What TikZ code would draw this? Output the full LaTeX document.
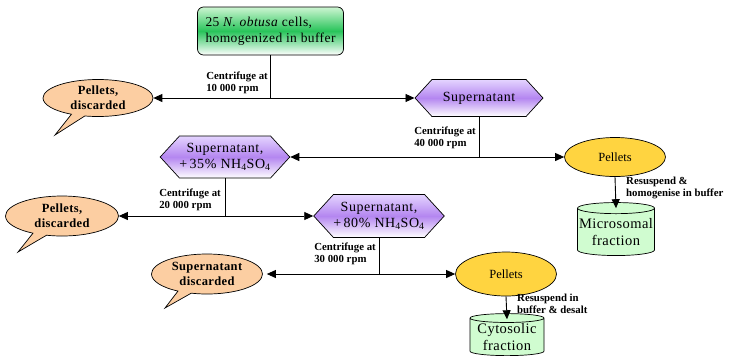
\documentclass[tikz,border=0pt]{standalone}
\usepackage{fontspec}
\setmainfont{Liberation Serif}
\usetikzlibrary{arrows.meta,shapes.symbols,shapes.callouts,shapes.geometric}
\definecolor{peach}{RGB}{252,206,162}
\definecolor{gold}{RGB}{255,212,64}
\definecolor{mint}{RGB}{208,252,208}
\definecolor{lav}{RGB}{228,212,255}
\definecolor{purp}{RGB}{180,134,240}
\definecolor{lgreen}{RGB}{205,245,210}
\definecolor{dgreen}{RGB}{40,196,90}
\begin{document}
\begin{tikzpicture}[x=1pt,y=-1pt,
  conn/.style={line width=0.9pt},
  arr/.style={conn,-{Triangle[length=9pt,width=8pt]}},
  barr/.style={conn,{Triangle[length=9pt,width=8pt]}-{Triangle[length=9pt,width=8pt]}},
  hexbox/.style={signal, signal to=east and west, signal pointer angle=95, draw, line width=0.7pt,
    top color=lav, bottom color=white, middle color=purp, inner sep=0pt, align=center,
    font=\addfontfeature{LetterSpace=4}\fontsize{14}{15.5}\selectfont},
  bubble/.style={ellipse callout, draw, line width=0.7pt, fill=peach, inner sep=0pt, align=center,
    font=\bfseries\addfontfeature{LetterSpace=3}\fontsize{12.5}{15}\selectfont},
  pellet/.style={ellipse, draw, line width=0.7pt, fill=gold, inner sep=0pt,
    font=\fontsize{12.5}{14}\selectfont},
  drum/.style={cylinder, shape border rotate=90, aspect=0.15, draw, line width=0.7pt, fill=mint,
    inner sep=0pt, align=center, font=\addfontfeature{LetterSpace=3}\fontsize{14.5}{17}\selectfont},
  lab/.style={inner sep=1pt, align=left, font=\bfseries\fontsize{10.8}{12}\selectfont}
]
\useasboundingbox (0,0) rectangle (731,360);

% start box
\node[draw, line width=0.7pt, rounded corners=6pt, minimum width=146pt, minimum height=48pt,
  top color=lgreen, bottom color=white, middle color=dgreen, align=left, inner sep=0pt,
  font=\addfontfeature{LetterSpace=3}\fontsize{13.5}{16}\selectfont] (box) at (270.5,31)
  {25 \textit{N. obtusa} cells,\\homogenized in buffer};

% level 1
\node[hexbox, minimum width=128pt, minimum height=37pt] (sup1) at (479,98) {Supernatant};
\node[bubble, minimum width=110pt, minimum height=37pt, callout absolute pointer={(55,135)}] (c1) at (98,98) {Pellets,\\discarded};
\coordinate (j1) at (box.south |- sup1.west);
\draw[conn] (box.south) -- (j1);
\draw[barr] (c1.east) -- (sup1.west);
\node[lab, anchor=east] (l1) at (269,83) {Centrifuge at\\10 000 rpm};

% level 2
\node[hexbox, minimum width=127pt, minimum height=42pt] (sup2) at (225,157) {Supernatant,\\+\,35\% NH\textsubscript{4}SO\textsubscript{4}};
\node[pellet, minimum width=101pt, minimum height=39pt] (p1) at (615,157) {Pellets};
\coordinate (j2) at (sup1.south |- p1.west);
\draw[conn] (sup1.south) -- (j2);
\draw[barr] (sup2.east) -- (p1.west);
\node[lab, anchor=east] (l2) at (477,138) {Centrifuge at\\40 000 rpm};

\node[drum, minimum width=77pt, minimum height=53pt] (m1) at (616,232) {Microsomal\\fraction};
\draw[arr] (p1.south) -- ([yshift=-6pt]m1.north);
\node[lab, anchor=west] (r1) at (625,188) {Resuspend \&\\homogenise in buffer};

% level 3
\node[hexbox, minimum width=128pt, minimum height=43pt] (sup3) at (379,216) {Supernatant,\\+\,80\% NH\textsubscript{4}SO\textsubscript{4}};
\node[bubble, minimum width=113pt, minimum height=40pt, callout absolute pointer={(18,252)}] (c2) at (62,216) {Pellets,\\discarded};
\coordinate (j3) at (sup2.south |- sup3.west);
\draw[conn] (sup2.south) -- (j3);
\draw[barr] (c2.east) -- (sup3.west);
\node[lab, anchor=east] (l3) at (222,200) {Centrifuge at\\20 000 rpm};

% level 4
\node[bubble, minimum width=111pt, minimum height=40pt, callout absolute pointer={(165,308)}] (c3) at (207,274) {Supernatant\\discarded};
\node[pellet, minimum width=101pt, minimum height=44pt] (p2) at (506,274) {Pellets};
\coordinate (j4) at (sup3.south |- p2.west);
\draw[conn] (sup3.south) -- (j4);
\draw[barr, shorten <=4pt] (c3.east) -- (p2.west);
\node[lab, anchor=east] (l4) at (377,254) {Centrifuge at\\30 000 rpm};

\node[drum, minimum width=74pt, minimum height=42pt] (cy2) at (507,337) {Cytosolic\\fraction};
\draw[arr] (p2.south) -- ([yshift=-6pt]cy2.north);
\node[lab, anchor=west] (r2) at (516,304) {Resuspend in\\buffer \& desalt};
\end{tikzpicture}
\end{document}
